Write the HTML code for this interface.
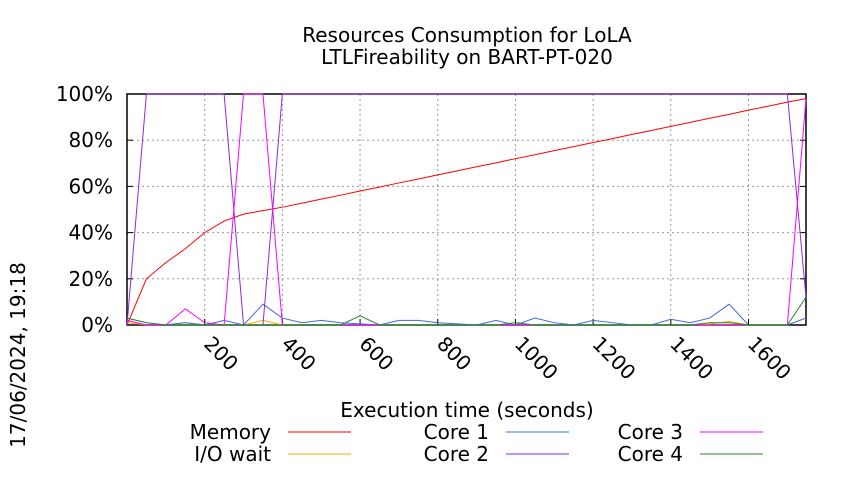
<!DOCTYPE html>
<html><head><meta charset="utf-8"><style>
body{margin:0;background:#fff;}
text{font-family:"DejaVu Sans","Liberation Sans",sans-serif;fill:#000;}
</style></head><body>
<svg width="850" height="475" xmlns="http://www.w3.org/2000/svg">
<g id="g"></g>
</svg>
<script>
const times=[0,50,100,150,200,250,300,350,400,450,500,550,600,650,700,750,800,850,900,950,1000,1050,1100,1150,1200,1250,1300,1350,1400,1450,1500,1550,1600,1650,1700,1748];
const memory=[0,20,27,33,40,45,48,49.5,51,52.7,54.5,56.2,58,59.7,61.5,63.2,65,66.7,68.5,70.2,72,73.7,75.5,77.2,79,80.7,82.5,84.2,86,87.7,89.5,91.2,93,94.7,96.5,98];
const ioWait=[1,0,0,1,0,0,0,2,0,0,0,0,0,0,0,0,0,0,0,0,0,0,0,0,0,0,0,0,0,0,0.5,1.5,0,0,0,3];
const core1=[3,1,0,1,0,2,0,9,3,1,2,1,0.5,0,2,2,1,0.5,0,2,0,3,1,0,2,1,0,0,2.5,1,3,9,0,0,0,3];
const core2=[0,100,100,100,100,100,0,0,100,100,100,100,100,100,100,100,100,100,100,100,100,100,100,100,100,100,100,100,100,100,100,100,100,100,100,12];
const core3=[2,0,0,7,1,0,100,100,0,0,0,0,0,0,0,0,0,0,0,0,0,0,0,0,0,0,0,0,0,0,0,0,0,0,0,98];
const core4=[3,1,0,0,0,0,0,0,0,0,0,0,4,0,0,0,0,0,0,0,1,0,0,0,0,0,0,0,0,0,1,1,0,0,0,12];
const xTicks=[200,400,600,800,1000,1200,1400,1600];
const yTicks=[0,20,40,60,80,100];
const L=127,R=806,T=94,B=325,XMAX=1748;
const X=t=>L+(R-L)*t/XMAX, Y=v=>B-(B-T)*v/100;
const NS="http://www.w3.org/2000/svg", g=document.getElementById('g');
function mk(tag,a,txt){const e=document.createElementNS(NS,tag);for(const k in a)e.setAttribute(k,a[k]);if(txt!=null)e.textContent=txt;g.appendChild(e);return e;}
let e;
e=mk('text',{x:467,y:42,'font-size':20,'text-anchor':'middle'},'Resources Consumption for LoLA');


e=mk('text',{x:467,y:64,'font-size':20,'text-anchor':'middle'},'LTLFireability on BART-PT-020');


yTicks.forEach(v=>{
 if(v>0&&v<100){e=mk('line',{x1:L,x2:R,y1:Y(v),y2:Y(v),stroke:'#999','stroke-dasharray':'2,3','stroke-width':1});
 
 }
 e=mk('text',{x:113,y:Y(v)+7,'font-size':20,'text-anchor':'end'},v+'%');
 
 
 mk('line',{x1:L,x2:L+6,y1:Y(v),y2:Y(v),stroke:'#000'});
 mk('line',{x1:R,x2:R-6,y1:Y(v),y2:Y(v),stroke:'#000'});
});
xTicks.forEach(t=>{
 e=mk('line',{x1:X(t),x2:X(t),y1:T,y2:B,stroke:'#999','stroke-dasharray':'2,3','stroke-width':1});
 
 
 mk('line',{x1:X(t),x2:X(t),y1:B,y2:B-6,stroke:'#000'});
 e=mk('text',{x:X(t)-2,y:B+20,'font-size':20,transform:`rotate(45 ${X(t)-2} ${B+20})`},String(t));
 
 
});
e=mk('rect',{x:L,y:T,width:R-L,height:B-T,fill:'none',stroke:'#000','stroke-width':1.5});


const series=[['memory',memory,'#ff0000'],['io-wait',ioWait,'#ffa500'],['core-1',core1,'#4169e1'],['core-2',core2,'#8a2be2'],['core-3',core3,'#ff00ff'],['core-4',core4,'#228b22']];
series.forEach(([n,d,c])=>{
 e=mk('polyline',{points:d.map((v,i)=>X(times[i])+','+Y(v)).join(' '),fill:'none',stroke:c,'stroke-width':1});
 
 
});
e=mk('text',{x:467,y:417,'font-size':20,'text-anchor':'middle'},'Execution time (seconds)');


e=mk('text',{x:0,y:0,'font-size':20,'text-anchor':'middle',transform:'translate(25 355) rotate(-90)'},'17/06/2024, 19:18');


const leg=[['Memory','#ff0000',271,432],['Core 1','#4169e1',489,432],['Core 3','#ff00ff',683,432],['I/O wait','#ffa500',271,454],['Core 2','#8a2be2',489,454],['Core 4','#228b22',683,454]];
leg.forEach(([n,c,x,y])=>{
 e=mk('text',{x:x,y:y+7,'font-size':20,'text-anchor':'end'},n);
 
 
 e=mk('line',{x1:x+17,x2:x+80,y1:y,y2:y,stroke:c,'stroke-width':1});
 
 
});
</script>
</body></html>
